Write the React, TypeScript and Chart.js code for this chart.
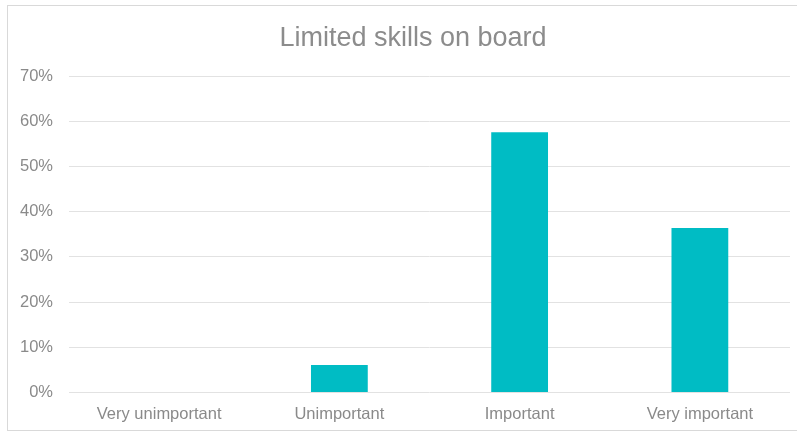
import React, { useEffect, useRef } from "react";
import { Chart, registerables } from "chart.js";

Chart.register(...registerables);

const TITLE = "Limited skills on board";
const categories = ["Very unimportant", "Unimportant", "Important", "Very important"];
const shares = [0, 6.06, 57.58, 36.36];
const yMax = 70;
const yStep = 10;

const FONT = "'Liberation Sans', Arial, sans-serif";
const TEXT = "#8a8a8a";
const BAR = "#00bcc4";
const GRID = "#e2e2e2";

export default function App() {
  const ref = useRef<HTMLCanvasElement | null>(null);

  useEffect(() => {
    if (!ref.current) return;
    const chart = new Chart(ref.current, {
      type: "bar",
      data: {
        labels: categories,
        datasets: [
          {
            data: shares,
            backgroundColor: BAR,
            borderWidth: 0,
            categoryPercentage: 1,
            barPercentage: 0.315,
            yAxisID: "y",
          },
        ],
      },
      options: {
        animation: false,
        responsive: false,
        maintainAspectRatio: false,
        layout: { padding: 0 },
        plugins: {
          legend: { display: false },
          tooltip: { enabled: false },
          title: {
            display: true,
            text: TITLE,
            color: "#8c8c8c",
            font: { family: FONT, size: 27, weight: "normal", lineHeight: 1.2 },
            padding: { top: 16.5, bottom: 21.1 },
          },
        },
        scales: {
          x: {
            grid: { display: false, drawTicks: false },
            border: { display: false },
            ticks: {
              color: TEXT,
              font: { family: FONT, size: 16.5, lineHeight: 1.2 },
              padding: 12,
              maxRotation: 0,
              autoSkip: false,
            },
            afterFit: (s: any) => {
              s.height = 37.5;
            },
          },
          y: {
            min: 0,
            max: yMax,
            grid: { color: GRID, lineWidth: 1, drawTicks: false },
            border: { display: false },
            ticks: {
              stepSize: yStep,
              color: TEXT,
              font: { family: FONT, size: 16.5, lineHeight: 1.2 },
              padding: 16,
              callback: (v: any) => v + "%",
            },
            afterFit: (s: any) => {
              s.width = 61;
            },
          },
          spacer: {
            type: "linear",
            position: "right",
            display: true,
            grid: { display: false, drawTicks: false },
            border: { display: false },
            ticks: { display: false },
            afterFit: (s: any) => {
              s.width = 28;
            },
          },
        },
      },
    });
    return () => chart.destroy();
  }, []);

  return (
    <div
      style={{
        position: "fixed",
        left: 7,
        top: 5,
        width: 812,
        height: 424,
        border: "1px solid #d9d9d9",
        background: "#fff",
        overflow: "hidden",
      }}
    >
      <canvas ref={ref} width={810} height={424} style={{ display: "block" }} />
    </div>
  );
}
